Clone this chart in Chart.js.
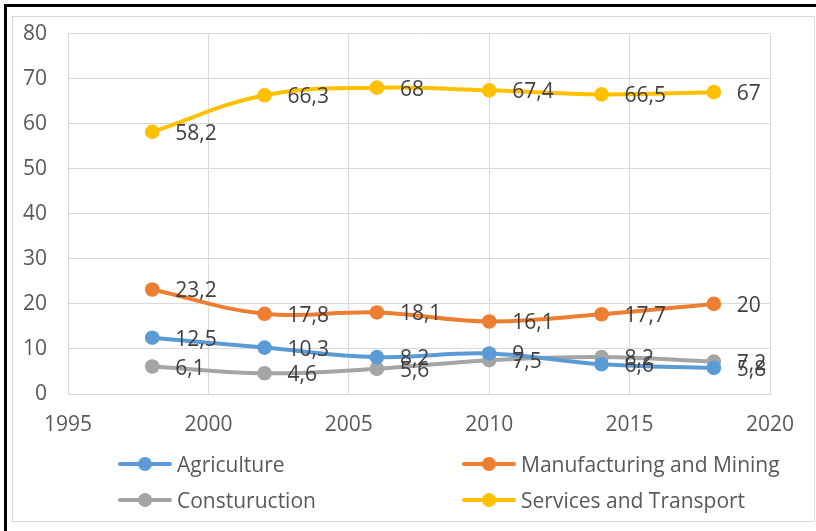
<!DOCTYPE html>
<html>
<head>
<meta charset="utf-8">
<script src="https://cdn.jsdelivr.net/npm/chart.js@4/dist/chart.umd.min.js"></script>
<style>
  body { margin: 0; width: 816px; height: 531px; background: #fff; overflow: hidden; position: relative;
         font-family: 'Open Sans', sans-serif; }
  .frame { position: absolute; left: 4px; top: 4px; width: 830px; height: 540px; border-left: 3px solid #000; border-top: 3px solid #000; }
  .inner { position: absolute; left: 12px; top: 16px; width: 801px; height: 504px; border: 1px solid #d9d9d9; }
  #wrap { position: absolute; left: 0; top: 0; width: 816px; height: 531px; }
  .legend { position: absolute; font-size: 21px; color: #595959; }
  .legend .item { position: absolute; white-space: nowrap; display: flex; align-items: center; }
  .legend .sw { position: relative; width: 54px; height: 20px; margin-right: 5px; }
  .legend .sw i { position: absolute; left: 0; right: 0; top: 8px; height: 4px; border-radius: 2px; }
  .legend .sw b { position: absolute; left: 20px; top: 3px; width: 14px; height: 14px; border-radius: 50%; }
</style>
</head>
<body>
<div class="frame"></div>
<div class="inner"></div>
<div id="wrap"><canvas id="chart" width="816" height="531"></canvas></div>
<div class="legend" id="legend"></div>
<script>
// data
const years = [1998, 2002, 2006, 2010, 2014, 2018];
const seriesNames = ['Agriculture', 'Manufacturing and Mining', 'Consturuction', 'Services and Transport'];
const agriculture = [12.5, 10.3, 8.2, 9, 6.6, 5.8];
const manufacturing = [23.2, 17.8, 18.1, 16.1, 17.7, 20];
const construction = [6.1, 4.6, 5.6, 7.5, 8.2, 7.2];
const services = [58.2, 66.3, 68, 67.4, 66.5, 67];
const xTicks = [1995, 2000, 2005, 2010, 2015, 2020];
const yTicks = [0, 10, 20, 30, 40, 50, 60, 70, 80];

const colors = ['#5B9BD5', '#ED7D31', '#A5A5A5', '#FFC000'];
const values = [agriculture, manufacturing, construction, services];
const FONT = "'Open Sans', sans-serif";
const TEXT = '#595959';

const datasets = values.map((vals, i) => ({
  label: seriesNames[i],
  data: vals.map((v, j) => ({ x: years[j], y: v })),
  borderColor: colors[i],
  backgroundColor: colors[i],
  pointBackgroundColor: colors[i],
  pointBorderColor: colors[i],
  borderWidth: 4,
  pointRadius: 7.3,
  pointBorderWidth: 0,
  tension: 0.4,
  fill: false,
}));

// labels to the right of each point, comma decimals
const valueLabels = {
  id: 'valueLabels',
  afterDatasetsDraw(chart) {
    const ctx = chart.ctx;
    ctx.save();
    ctx.font = '21px ' + FONT;
    ctx.fillStyle = '#404040';
    ctx.textAlign = 'left';
    ctx.textBaseline = 'middle';
    chart.data.datasets.forEach((ds, i) => {
      chart.getDatasetMeta(i).data.forEach((pt, j) => {
        ctx.fillText(String(values[i][j]).replace('.', ','), pt.x + 23, pt.y + 2);
      });
    });
    ctx.restore();
  }
};

new Chart(document.getElementById('chart'), {
  type: 'line',
  data: { datasets },
  options: {
    responsive: false,
    animation: false,
    layout: { padding: { top: 32, right: 46, bottom: 97, left: 0 } },
    plugins: { legend: { display: false }, tooltip: { enabled: false } },
    scales: {
      x: {
        type: 'linear', min: xTicks[0], max: xTicks[xTicks.length - 1],
        afterBuildTicks: s => { s.ticks = xTicks.map(v => ({ value: v })); },
        afterFit: s => { s.height = 40; },
        ticks: { color: TEXT, font: { family: FONT, size: 21 }, padding: 18, callback: v => String(v), maxRotation: 0 },
        grid: { color: '#d9d9d9', drawTicks: false },
        border: { color: '#d9d9d9' }
      },
      y: {
        min: 0, max: 80,
        afterBuildTicks: s => { s.ticks = yTicks.map(v => ({ value: v })); },
        afterFit: s => { s.width = 68; },
        ticks: { color: TEXT, font: { family: FONT, size: 21 }, padding: 21 },
        grid: { color: '#d9d9d9', drawTicks: false },
        border: { color: '#d9d9d9' }
      }
    }
  },
  plugins: [valueLabels]
});

// legend, two columns like the original
const legendPos = [[118, 465], [462, 465], [118, 501], [462, 501]];
const legend = document.getElementById('legend');
seriesNames.forEach((name, i) => {
  const it = document.createElement('div');
  it.className = 'item';
  it.style.left = legendPos[i][0] + 'px';
  it.style.top = (legendPos[i][1] - 15) + 'px';
  it.innerHTML = `<span class="sw"><i style="background:${colors[i]}"></i><b style="background:${colors[i]}"></b></span><span>${name}</span>`;
  legend.appendChild(it);
});
</script>
</body>
</html>
